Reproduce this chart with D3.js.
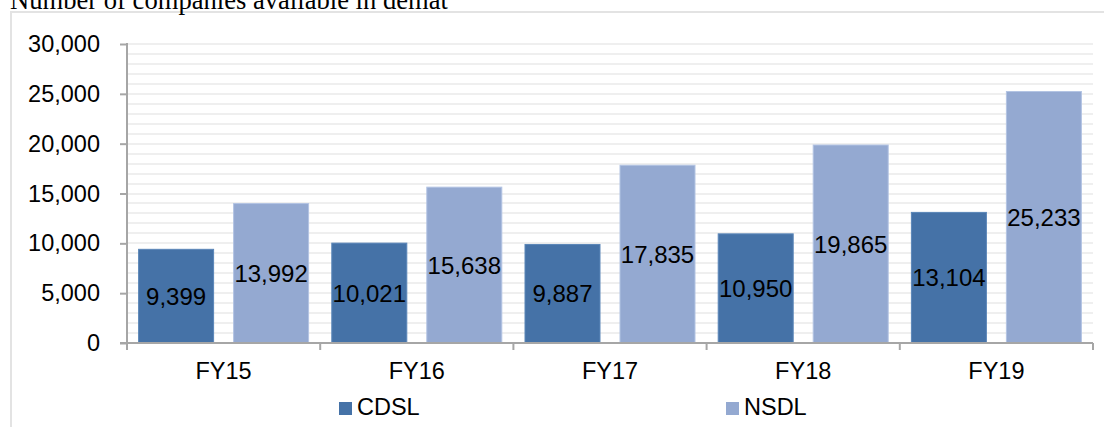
<!DOCTYPE html>
<html><head><meta charset="utf-8">
<script src="https://cdn.jsdelivr.net/npm/d3@7"></script>
<style>html,body{margin:0;padding:0;background:#fff;}svg{display:block;}</style>
</head><body>
<svg id="c" width="1104" height="427"></svg>
<script>
const categories = ["FY15","FY16","FY17","FY18","FY19"];
const series = ["CDSL","NSDL"];
const cdsl = [9399,10021,9887,10950,13104];
const nsdl = [13992,15638,17835,19865,25233];
const yTicks = [0,5000,10000,15000,20000,25000,30000];
const title = "Number of companies available in demat";
const colors = {CDSL:"#4572A7", NSDL:"#94A9D1"};
const strokes = {CDSL:"#5A86B8", NSDL:"#B3C4E3"};

const svg = d3.select("#c");
const L = 127, R = 1093, T = 44, B = 343;

// frame
svg.append("path").attr("d",`M11,427 V12 H1104`).attr("fill","none").attr("stroke","#e3e3e3").attr("stroke-width",2);

svg.append("text").attr("x",10).attr("y",9).attr("font-family","'Liberation Serif','Times New Roman',serif")
  .attr("font-size",26.6).attr("fill","#000").text(title);

const x0 = d3.scaleBand().domain(categories).range([L,R]).padding(0);
const bw = x0.bandwidth();
const outer = bw*11.6/193.2;
const x1 = d3.scaleBand().domain(series).range([outer,bw-outer]).paddingInner(0.2105).paddingOuter(0);
const y = d3.scaleLinear().domain([0,30000]).range([B,T]);

// minor gridlines
const grid = d3.range(1000,30001,1000);
svg.append("g").selectAll("line").data(grid).join("line")
  .attr("x1",L).attr("x2",R).attr("y1",d=>Math.round(y(d))).attr("y2",d=>Math.round(y(d)))
  .attr("stroke","#efefef").attr("stroke-width",2);

const data = categories.map((c,i)=>({cat:c, vals:[{s:"CDSL",v:cdsl[i]},{s:"NSDL",v:nsdl[i]}]}));
const g = svg.append("g").selectAll("g").data(data).join("g").attr("transform",d=>`translate(${x0(d.cat)},0)`);
g.selectAll("rect").data(d=>d.vals).join("rect")
  .attr("x",d=>x1(d.s)).attr("width",x1.bandwidth())
  .attr("y",d=>y(d.v)).attr("height",d=>B-y(d.v))
  .attr("fill",d=>colors[d.s]).attr("stroke",d=>strokes[d.s]).attr("stroke-width",1);
const fmt = d3.format(",");
g.selectAll("text").data(d=>d.vals).join("text")
  .attr("x",d=>x1(d.s)+x1.bandwidth()/2).attr("y",d=>(y(d.v)+B)/2)
  .attr("text-anchor","middle").attr("dominant-baseline","central")
  .attr("font-family","'Liberation Sans',Arial,sans-serif").attr("font-size",24).attr("fill","#000")
  .text(d=>fmt(d.v));

// y axis
const yAxis = d3.axisLeft(y).tickValues(yTicks).tickFormat(fmt).tickSizeInner(7).tickSizeOuter(0).tickPadding(20);
const ya = svg.append("g").attr("transform",`translate(${L},0)`).call(yAxis);
ya.select(".domain").attr("stroke","#a6a6a6").attr("stroke-width",2).attr("d",`M0,${T-1}V${B}`);
ya.selectAll(".tick line").attr("stroke","#a6a6a6").attr("stroke-width",2);
ya.selectAll(".tick text").attr("font-family","'Liberation Sans',Arial,sans-serif").attr("font-size",23.5).attr("fill","#000");

// x axis
const xa = svg.append("g").attr("transform",`translate(0,${B})`);
xa.append("line").attr("x1",L-7).attr("x2",R).attr("y1",0).attr("y2",0).attr("stroke","#a6a6a6").attr("stroke-width",2);
const bounds = categories.map(c=>x0(c)).concat([R]);
xa.selectAll("line.t").data(bounds).join("line").attr("class","t")
  .attr("x1",d=>d).attr("x2",d=>d).attr("y1",0).attr("y2",7).attr("stroke","#a6a6a6").attr("stroke-width",2);
xa.selectAll("text").data(categories).join("text")
  .attr("x",d=>x0(d)+bw/2).attr("y",36).attr("text-anchor","middle")
  .attr("font-family","'Liberation Sans',Arial,sans-serif").attr("font-size",23.5).attr("fill","#000").text(d=>d);

// legend
const legX = {CDSL:339, NSDL:726};
const lg = svg.append("g").selectAll("g").data(series).join("g").attr("transform",d=>`translate(${legX[d]},402)`);
lg.append("rect").attr("width",13).attr("height",13).attr("fill",d=>colors[d]);
lg.append("text").attr("x",18).attr("y",13).attr("font-family","'Liberation Sans',Arial,sans-serif")
  .attr("font-size",23.5).attr("fill","#000").text(d=>d);
</script>
</body></html>
